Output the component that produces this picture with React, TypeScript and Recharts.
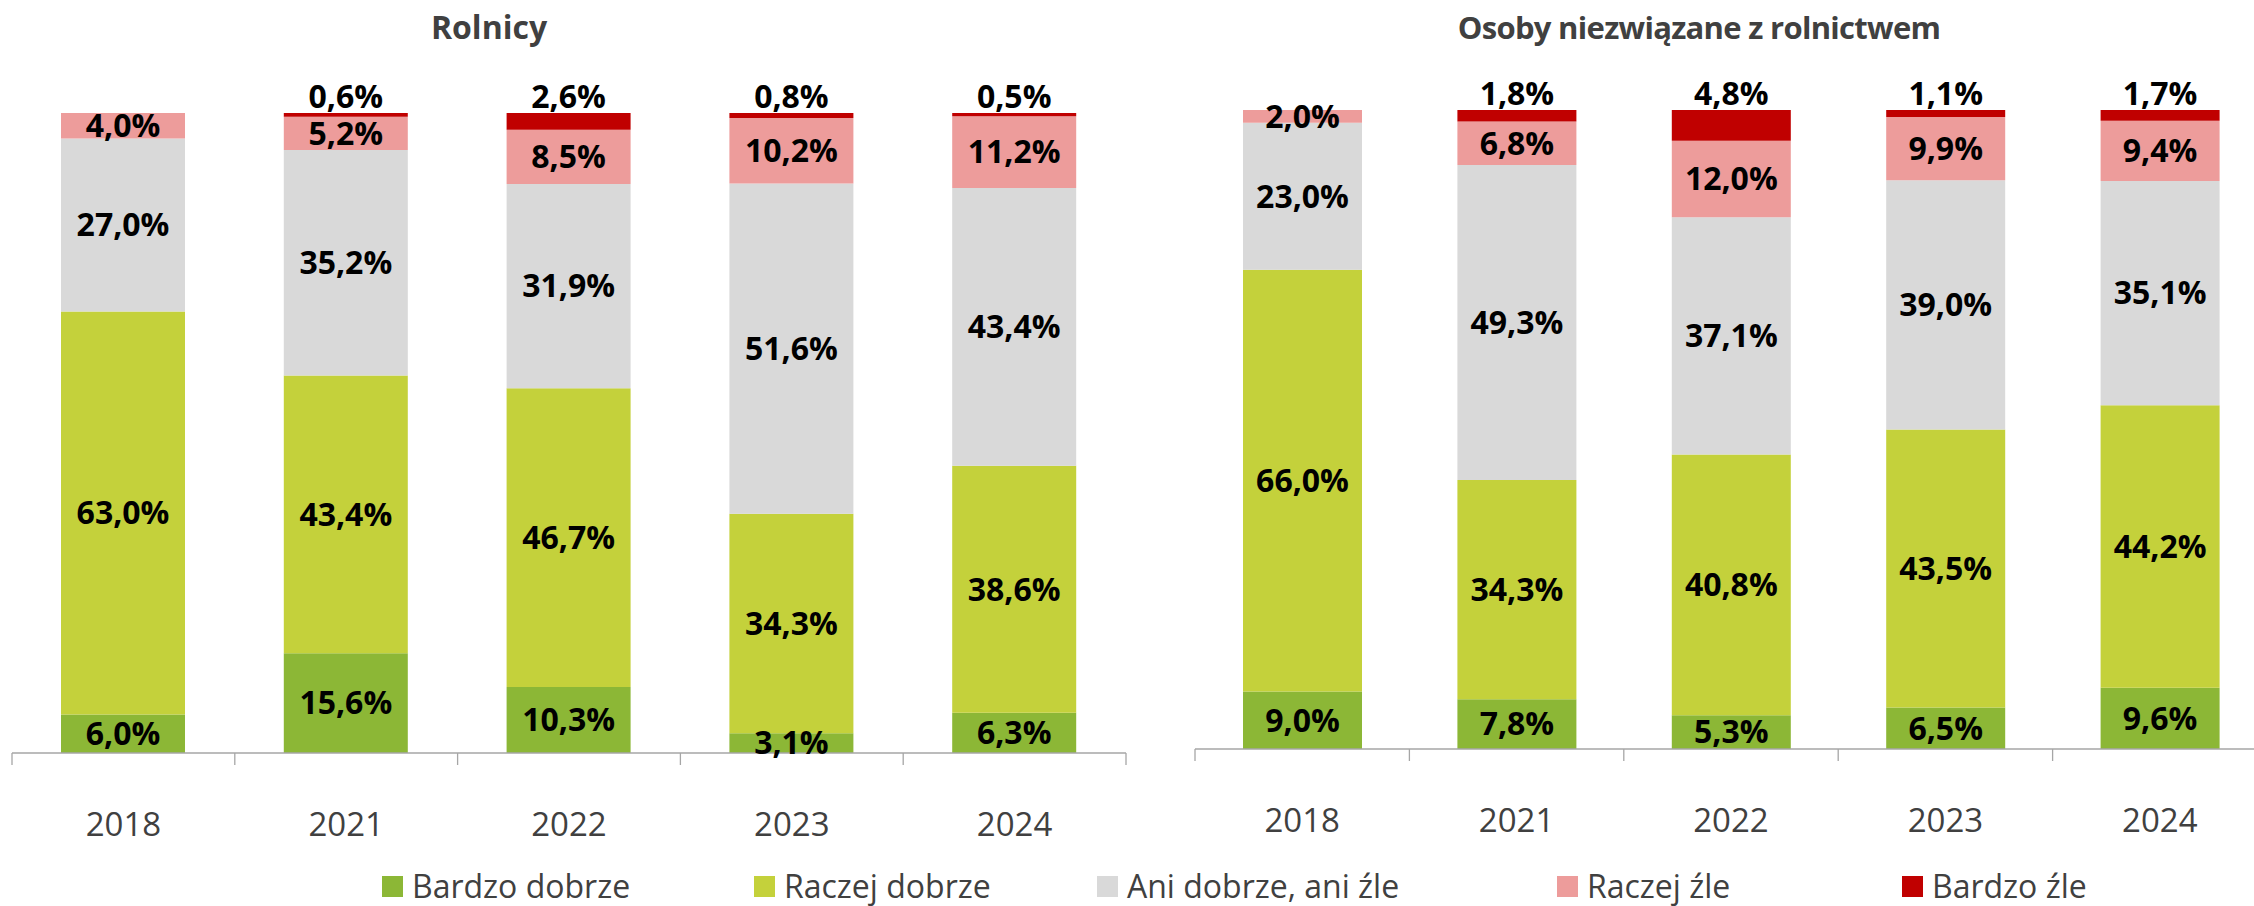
import React from 'react';
import { BarChart, Bar, XAxis, YAxis, LabelList } from 'recharts';

const years = ['2018', '2021', '2022', '2023', '2024'];
const seriesNames = ['Bardzo dobrze', 'Raczej dobrze', 'Ani dobrze, ani źle', 'Raczej źle', 'Bardzo źle'];
const seriesColors = ['#8CB736', '#C4D13B', '#D9D9D9', '#ED9C9B', '#C00000'];

// Rolnicy
const farmersBardzoDobrze = [6.0, 15.6, 10.3, 3.1, 6.3];
const farmersRaczejDobrze = [63.0, 43.4, 46.7, 34.3, 38.6];
const farmersAni = [27.0, 35.2, 31.9, 51.6, 43.4];
const farmersRaczejZle = [4.0, 5.2, 8.5, 10.2, 11.2];
const farmersBardzoZle = [null, 0.6, 2.6, 0.8, 0.5];

// Osoby niezwiązane z rolnictwem
const othersBardzoDobrze = [9.0, 7.8, 5.3, 6.5, 9.6];
const othersRaczejDobrze = [66.0, 34.3, 40.8, 43.5, 44.2];
const othersAni = [23.0, 49.3, 37.1, 39.0, 35.1];
const othersRaczejZle = [2.0, 6.8, 12.0, 9.9, 9.4];
const othersBardzoZle = [null, 1.8, 4.8, 1.1, 1.7];

const keys = ['s0', 's1', 's2', 's3', 's4'];

const buildRows = (cols: (number | null)[][]) =>
  years.map((y, i) => {
    const row: any = { year: y };
    cols.forEach((c, k) => {
      row[keys[k]] = c[i];
    });
    return row;
  });

const farmersData = buildRows([farmersBardzoDobrze, farmersRaczejDobrze, farmersAni, farmersRaczejZle, farmersBardzoZle]);
const othersData = buildRows([othersBardzoDobrze, othersRaczejDobrze, othersAni, othersRaczejZle, othersBardzoZle]);

const FONT = '"Open Sans", "Noto Sans", sans-serif';
const AXIS_COLOR = '#A6A6A6';
const TEXT_COLOR = '#404040';

const fmt = (v: any) => (v === null || v === undefined ? '' : Number(v).toFixed(1).replace('.', ',') + '%');

const makeTick = (band: number, count: number) => (props: any) => {
  const { x, y, payload, index } = props;
  const lx = x - band / 2;
  const rx = x + band / 2;
  return (
    <g>
      <line x1={lx} y1={y} x2={lx} y2={y + 12} stroke={AXIS_COLOR} strokeWidth={1.3} />
      {index === count - 1 && <line x1={rx} y1={y} x2={rx} y2={y + 12} stroke={AXIS_COLOR} strokeWidth={1.3} />}
      <text
        x={x}
        y={y + 70}
        textAnchor="middle"
        dominantBaseline="central"
        fill={TEXT_COLOR}
        fontFamily={FONT}
        fontSize={33}
      >
        {payload.value}
      </text>
    </g>
  );
};

function Panel(props: {
  data: any[];
  width: number;
  margin: { top: number; left: number; right: number; bottom: number };
  barSize: number;
}) {
  const { data, width, margin, barSize } = props;
  const plotW = width - margin.left - margin.right;
  const band = plotW / years.length;
  return (
    <BarChart width={width} height={906} data={data} margin={margin}>
      <XAxis
        dataKey="year"
        height={60}
        axisLine={{ stroke: AXIS_COLOR, strokeWidth: 1.3 }}
        tickLine={false}
        tickSize={0}
        tickMargin={0}
        interval={0}
        tick={makeTick(band, years.length)}
      />
      <YAxis hide width={0} domain={[0, 100]} />
      {keys.map((k, i) => (
        <Bar key={k} dataKey={k} stackId="a" fill={seriesColors[i]} barSize={barSize} isAnimationActive={false}>
          <LabelList
            dataKey={k}
            position={i === 4 ? 'top' : 'center'}
            formatter={fmt}
            fill="#000000"
            fontFamily={FONT}
            fontSize={32}
            fontWeight="bold"
          />
        </Bar>
      ))}
    </BarChart>
  );
}

const legendLeft = [382, 754, 1097, 1557, 1902];

export default function App() {
  return (
    <div
      style={{
        position: 'absolute',
        left: 0,
        top: 0,
        width: 2254,
        height: 906,
        background: '#ffffff',
        fontFamily: FONT,
        overflow: 'hidden',
      }}
    >
      <div style={{ position: 'absolute', left: 0, top: 0, width: 1127, height: 906 }}>
        <Panel data={farmersData} width={1127} margin={{ top: 113, left: 12, right: 1, bottom: 93 }} barSize={124} />
      </div>
      <div style={{ position: 'absolute', left: 1127, top: 0, width: 1127, height: 906, overflow: 'hidden' }}>
        <Panel data={othersData} width={1140} margin={{ top: 110, left: 68, right: 0, bottom: 97 }} barSize={119} />
      </div>
      <div
        style={{
          position: 'absolute',
          left: 489,
          top: 27,
          transform: 'translate(-50%, -50%)',
          fontSize: 32,
          fontWeight: 'bold',
          color: TEXT_COLOR,
          whiteSpace: 'nowrap',
          lineHeight: 1,
        }}
      >
        Rolnicy
      </div>
      <div
        style={{
          position: 'absolute',
          left: 1699,
          top: 27,
          transform: 'translate(-50%, -50%)',
          fontSize: 31,
          letterSpacing: -0.7,
          fontWeight: 'bold',
          color: TEXT_COLOR,
          whiteSpace: 'nowrap',
          lineHeight: 1,
        }}
      >
        Osoby niezwiązane z rolnictwem
      </div>
      {seriesNames.map((name, i) => (
        <div
          key={name}
          style={{
            position: 'absolute',
            left: legendLeft[i],
            top: 867,
            height: 38,
            display: 'flex',
            alignItems: 'center',
            whiteSpace: 'nowrap',
          }}
        >
          <div style={{ width: 21, height: 21, background: seriesColors[i], marginRight: 9 }} />
          <span style={{ fontSize: 32, color: TEXT_COLOR, lineHeight: 1 }}>{name}</span>
        </div>
      ))}
    </div>
  );
}
